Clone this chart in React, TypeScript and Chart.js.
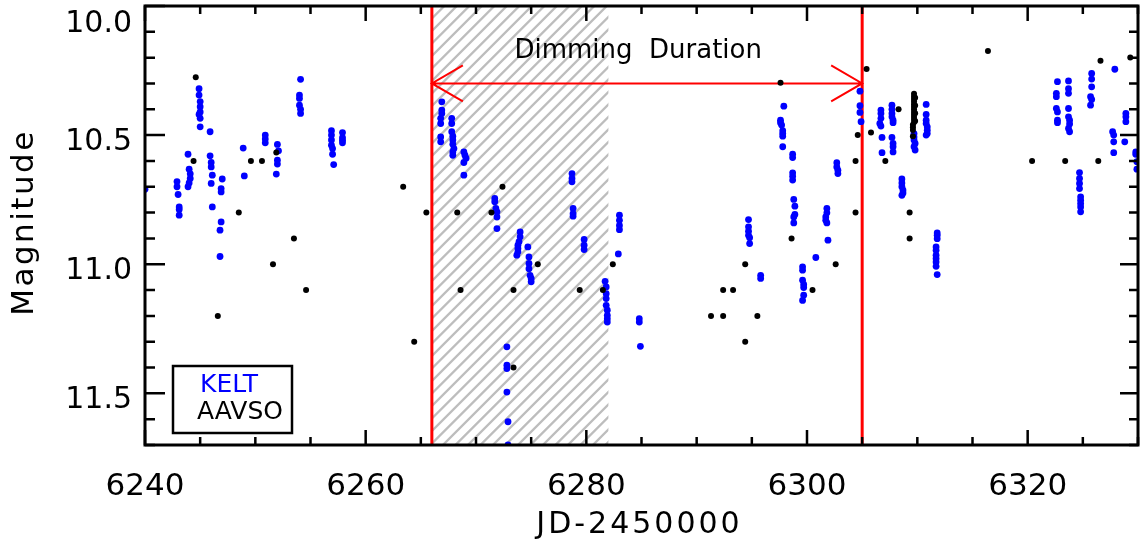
import { useEffect, useRef } from "react";
import { Chart, registerables } from "chart.js";
Chart.register(...registerables);

const FONT = '"DejaVu Sans", "Liberation Sans", sans-serif';

// Axis ranges and ticks
const xRange = [6240, 6330];
const yRange = [10.0, 11.7];
const xMajorTicks = [6240, 6260, 6280, 6300, 6320];
const xMinorStep = 5;
const yMajorTicks = [10.0, 10.5, 11.0, 11.5];
const yMinorStep = 0.1;

// Annotations
const dimmingStart = 6266;
const dimmingEnd = 6305;
const hatchEnd = 6282;
const arrowMag = 10.3;
const labelPos = [6284.7, 10.2];

// KELT photometry [JD-2450000, mag]
const keltPoints: [number, number][] = [
  [6240.0, 10.71],
  [6242.9, 10.68], [6242.9, 10.70], [6243.0, 10.73], [6243.1, 10.778], [6243.1, 10.788], [6243.1, 10.81],
  [6243.9, 10.574], [6244.0, 10.632], [6244.1, 10.65], [6244.1, 10.668], [6244.0, 10.685], [6243.9, 10.70],
  [6244.9, 10.32], [6244.9, 10.345], [6245.0, 10.37], [6245.0, 10.39], [6245.0, 10.41], [6244.9, 10.42], [6245.0, 10.435], [6245.0, 10.468],
  [6245.9, 10.487], [6245.9, 10.58], [6246.0, 10.606], [6246.0, 10.623], [6246.1, 10.655], [6246.0, 10.687], [6246.1, 10.778],
  [6247.0, 10.67], [6246.9, 10.707], [6246.9, 10.72], [6246.9, 10.836], [6246.8, 10.868], [6246.8, 10.97],
  [6248.9, 10.55], [6249.0, 10.658],
  [6250.9, 10.50], [6250.9, 10.515], [6250.9, 10.53],
  [6252.0, 10.536], [6252.1, 10.561], [6252.0, 10.597], [6252.0, 10.612], [6251.9, 10.651],
  [6254.1, 10.284], [6254.0, 10.345], [6254.0, 10.358], [6254.0, 10.384], [6254.1, 10.40], [6254.1, 10.416],
  [6256.9, 10.483], [6256.9, 10.50], [6256.9, 10.519], [6256.9, 10.539], [6257.0, 10.552], [6257.0, 10.574], [6257.1, 10.614],
  [6257.9, 10.49], [6257.9, 10.51], [6257.9, 10.52], [6257.9, 10.53],
  [6266.9, 10.371], [6266.9, 10.403], [6266.9, 10.416], [6266.8, 10.435], [6266.8, 10.455], [6266.8, 10.507], [6266.8, 10.526],
  [6267.8, 10.435], [6267.8, 10.455], [6267.8, 10.487], [6267.9, 10.504], [6267.9, 10.519], [6267.9, 10.535], [6268.0, 10.552], [6267.9, 10.565], [6267.9, 10.578],
  [6268.9, 10.565], [6269.0, 10.578], [6269.1, 10.59], [6268.9, 10.606], [6268.9, 10.655],
  [6271.7, 10.745], [6271.7, 10.758], [6271.8, 10.784], [6271.9, 10.797], [6271.9, 10.817], [6271.9, 10.862],
  [6272.8, 11.32], [6272.8, 11.391], [6272.8, 11.404], [6272.8, 11.495], [6272.9, 11.61], [6272.9, 11.70],
  [6274.0, 10.875], [6274.0, 10.894], [6273.9, 10.913], [6273.8, 10.926], [6273.8, 10.939], [6273.8, 10.952], [6273.7, 10.965],
  [6274.7, 10.933], [6274.8, 10.972], [6274.8, 10.997], [6274.8, 11.017], [6274.9, 11.043], [6275.0, 11.055], [6275.0, 11.068],
  [6278.7, 10.649], [6278.7, 10.668], [6278.7, 10.681], [6278.8, 10.784], [6278.8, 10.804], [6278.8, 10.814],
  [6279.8, 10.904], [6279.8, 10.926], [6279.8, 10.943],
  [6281.7, 11.066], [6281.8, 11.088], [6281.8, 11.114], [6281.8, 11.133], [6281.8, 11.159], [6281.9, 11.178], [6281.9, 11.198], [6281.9, 11.211], [6281.9, 11.224],
  [6283.0, 10.81], [6283.0, 10.83], [6283.0, 10.85], [6283.0, 10.866], [6282.9, 10.96],
  [6284.8, 11.211], [6284.8, 11.224], [6284.9, 11.318],
  [6294.7, 10.827], [6294.7, 10.855], [6294.7, 10.872], [6294.7, 10.888], [6294.8, 10.897], [6294.8, 10.92],
  [6295.8, 11.043], [6295.8, 11.055],
  [6297.9, 10.388], [6297.6, 10.442], [6297.6, 10.452], [6297.7, 10.461], [6297.8, 10.483], [6297.8, 10.494], [6297.8, 10.504], [6297.8, 10.545],
  [6298.7, 10.574], [6298.7, 10.587], [6298.7, 10.646], [6298.7, 10.659], [6298.7, 10.674], [6298.8, 10.749], [6298.9, 10.775], [6298.9, 10.807], [6298.8, 10.817], [6298.8, 10.84],
  [6299.6, 11.01], [6299.6, 11.023], [6299.6, 11.062], [6299.7, 11.078], [6299.7, 11.09], [6299.7, 11.12], [6299.6, 11.14],
  [6300.8, 10.974],
  [6301.8, 10.784], [6301.8, 10.801], [6301.7, 10.817], [6301.7, 10.83], [6301.8, 10.84], [6301.9, 10.907],
  [6302.7, 10.607], [6302.7, 10.623], [6302.8, 10.636], [6302.8, 10.649],
  [6304.8, 10.33], [6304.8, 10.386], [6304.8, 10.412], [6304.9, 10.448],
  [6306.7, 10.403], [6306.7, 10.416], [6306.7, 10.435], [6306.6, 10.455], [6306.7, 10.465], [6306.8, 10.509], [6306.8, 10.568],
  [6307.7, 10.384], [6307.7, 10.40], [6307.7, 10.416], [6307.7, 10.429], [6307.8, 10.442], [6307.8, 10.452], [6307.7, 10.509], [6307.8, 10.532], [6307.8, 10.545], [6307.8, 10.565],
  [6308.6, 10.67], [6308.6, 10.685], [6308.6, 10.70], [6308.7, 10.713], [6308.7, 10.724], [6308.6, 10.733],
  [6309.7, 10.494], [6309.7, 10.507], [6309.7, 10.519], [6309.8, 10.532], [6309.7, 10.545], [6309.8, 10.558],
  [6310.8, 10.381], [6310.8, 10.42], [6310.8, 10.442], [6310.8, 10.455], [6310.9, 10.468], [6310.9, 10.481], [6310.9, 10.494], [6310.8, 10.50],
  [6311.8, 10.879], [6311.8, 10.888], [6311.8, 10.901], [6311.7, 10.933], [6311.7, 10.946], [6311.7, 10.965], [6311.7, 10.978], [6311.7, 10.991], [6311.7, 11.008], [6311.8, 11.04],
  [6322.7, 10.293], [6322.6, 10.338], [6322.6, 10.351], [6322.6, 10.397], [6322.7, 10.41], [6322.7, 10.442], [6322.7, 10.452],
  [6323.7, 10.29], [6323.7, 10.32], [6323.7, 10.338], [6323.7, 10.397], [6323.7, 10.429], [6323.8, 10.442], [6323.8, 10.457], [6323.7, 10.474], [6323.8, 10.487],
  [6324.7, 10.645], [6324.7, 10.668], [6324.7, 10.687], [6324.7, 10.707], [6324.8, 10.739], [6324.8, 10.752], [6324.8, 10.765], [6324.8, 10.778], [6324.8, 10.797],
  [6325.8, 10.261], [6325.8, 10.283], [6325.8, 10.313], [6325.7, 10.351], [6325.8, 10.362], [6325.7, 10.384],
  [6327.9, 10.245],
  [6327.7, 10.487], [6327.8, 10.50], [6327.8, 10.526], [6327.8, 10.568],
  [6328.9, 10.416], [6328.9, 10.429], [6328.9, 10.448], [6328.8, 10.526],
  [6329.8, 10.565], [6329.8, 10.574], [6329.9, 10.603], [6329.9, 10.632],
];

// AAVSO photometry [JD-2450000, mag]
const aavsoPoints: [number, number][] = [
  [6244.6, 10.276], [6244.4, 10.60], [6246.6, 11.20], [6248.5, 10.80], [6249.6, 10.60], [6250.6, 10.60],
  [6251.9, 10.567], [6251.6, 11.00], [6253.5, 10.90], [6254.6, 11.10], [6263.4, 10.70], [6265.5, 10.80], [6264.4, 11.30],
  [6268.3, 10.80], [6268.6, 11.10], [6271.4, 10.80], [6272.4, 10.70], [6273.4, 11.10], [6273.4, 11.40],
  [6275.6, 11.00], [6279.4, 11.10], [6281.5, 11.10], [6282.4, 11.00],
  [6291.3, 11.20], [6292.4, 11.20], [6292.4, 11.10], [6293.3, 11.10], [6294.4, 11.00], [6294.4, 11.30], [6295.5, 11.20],
  [6297.6, 10.297], [6298.6, 10.90], [6300.5, 11.10], [6302.6, 11.00], [6304.4, 10.80], [6304.4, 10.60], [6304.6, 10.50],
  [6305.4, 10.244], [6305.8, 10.49], [6307.1, 10.60], [6308.3, 10.40],
  [6309.3, 10.80], [6309.3, 10.90], [6309.6, 10.504],
  [6309.7, 10.34], [6309.7, 10.35], [6309.7, 10.36], [6309.7, 10.37], [6309.7, 10.38], [6309.7, 10.39], [6309.7, 10.40],
  [6309.7, 10.41], [6309.7, 10.42], [6309.7, 10.43], [6309.7, 10.44], [6309.7, 10.45], [6309.6, 10.46], [6309.6, 10.47],
  [6309.6, 10.48], [6309.8, 10.355], [6309.8, 10.385], [6309.8, 10.415], [6309.8, 10.445],
  [6316.4, 10.174], [6320.4, 10.60], [6323.4, 10.60], [6326.4, 10.60], [6326.6, 10.212], [6329.3, 10.199],
];

const decorPlugin = {
  id: "decor",
  beforeDatasetsDraw(chart: any) {
    const { ctx, chartArea: a } = chart;
    const x = chart.scales.x;
    const y = chart.scales.y;
    const hx0 = x.getPixelForValue(dimmingStart);
    const hx1 = x.getPixelForValue(hatchEnd);
    // hatch
    ctx.save();
    ctx.beginPath();
    ctx.rect(hx0, a.top, hx1 - hx0, a.bottom - a.top);
    ctx.clip();
    ctx.strokeStyle = "#bdbdbd";
    ctx.lineWidth = 2.4;
    const H = a.bottom - a.top;
    ctx.beginPath();
    for (let k = hx0 - H; k < hx1 + 2; k += 12.5) {
      ctx.moveTo(k, a.bottom);
      ctx.lineTo(k + H, a.top);
    }
    ctx.stroke();
    ctx.restore();

    ctx.save();
    // red vertical lines
    ctx.strokeStyle = "#ff0000";
    ctx.lineWidth = 3;
    [dimmingStart, dimmingEnd].forEach((v) => {
      const px = x.getPixelForValue(v);
      ctx.beginPath();
      ctx.moveTo(px, a.top);
      ctx.lineTo(px, a.bottom);
      ctx.stroke();
    });
    // arrow
    const ax0 = x.getPixelForValue(dimmingStart);
    const ax1 = x.getPixelForValue(dimmingEnd);
    const ay = y.getPixelForValue(arrowMag);
    ctx.lineWidth = 2;
    ctx.beginPath();
    ctx.moveTo(ax0, ay);
    ctx.lineTo(ax1, ay);
    ctx.moveTo(ax0 + 31, ay - 18);
    ctx.lineTo(ax0, ay);
    ctx.lineTo(ax0 + 31, ay + 18);
    ctx.moveTo(ax1 - 31, ay - 18);
    ctx.lineTo(ax1, ay);
    ctx.lineTo(ax1 - 31, ay + 18);
    ctx.stroke();
    // label
    ctx.fillStyle = "#000";
    ctx.font = `26px ${FONT}`;
    ctx.textAlign = "center";
    ctx.textBaseline = "alphabetic";
    ctx.fillText("Dimming  Duration", x.getPixelForValue(labelPos[0]), y.getPixelForValue(labelPos[1]));
    ctx.restore();
  },
  afterDraw(chart: any) {
    const { ctx, chartArea: a } = chart;
    const x = chart.scales.x;
    const y = chart.scales.y;
    ctx.save();
    ctx.strokeStyle = "#000";
    ctx.fillStyle = "#000";
    // ticks
    ctx.lineWidth = 2.5;
    ctx.beginPath();
    for (let v = xRange[0]; v <= xRange[1] + 1e-9; v += xMinorStep) {
      const px = x.getPixelForValue(v);
      const major = xMajorTicks.some((t) => Math.abs(t - v) < 1e-6);
      const len = major ? 15 : 8;
      ctx.moveTo(px, a.bottom);
      ctx.lineTo(px, a.bottom - len);
      ctx.moveTo(px, a.top);
      ctx.lineTo(px, a.top + len);
    }
    for (let i = 0; i <= Math.round((yRange[1] - yRange[0]) / yMinorStep); i++) {
      const v = yRange[0] + i * yMinorStep;
      const py = y.getPixelForValue(v);
      const major = yMajorTicks.some((t) => Math.abs(t - v) < 1e-6);
      ctx.moveTo(a.left, py);
      ctx.lineTo(a.left + (major ? 20 : 10), py);
      ctx.moveTo(a.right, py);
      ctx.lineTo(a.right - (major ? 18 : 9), py);
    }
    ctx.stroke();
    // frame
    ctx.lineWidth = 3;
    ctx.strokeRect(a.left, a.top, a.right - a.left, a.bottom - a.top);

    // tick labels
    ctx.font = `31px ${FONT}`;
    ctx.textAlign = "center";
    ctx.textBaseline = "alphabetic";
    xMajorTicks.forEach((t) => ctx.fillText(String(t), x.getPixelForValue(t), a.bottom + 50));
    ctx.font = `30px ${FONT}`;
    ctx.textAlign = "right";
    yMajorTicks.forEach((t) => {
      const py = y.getPixelForValue(t);
      ctx.fillText(t.toFixed(1), a.left - 13, Math.max(py + 15, a.top + 26));
    });

    // axis titles
    ctx.font = `30px ${FONT}`;
    ctx.textAlign = "center";
    (ctx as any).letterSpacing = "3px";
    ctx.fillText("JD-2450000", (a.left + a.right) / 2 - 2, a.bottom + 88);
    ctx.save();
    ctx.font = `31px ${FONT}`;
    (ctx as any).letterSpacing = "2.5px";
    ctx.translate(33, (a.top + a.bottom) / 2 - 3);
    ctx.rotate(-Math.PI / 2);
    ctx.fillText("Magnitude", 0, 0);
    ctx.restore();
    (ctx as any).letterSpacing = "0px";

    // legend
    ctx.lineWidth = 2.5;
    ctx.strokeRect(173, 366, 119, 67);
    ctx.font = `25px ${FONT}`;
    ctx.textAlign = "left";
    ctx.fillStyle = "#0000ff";
    ctx.fillText("KELT", 200, 392);
    ctx.fillStyle = "#000";
    ctx.fillText("AAVSO", 197, 419);
    ctx.restore();
  },
};

export default function App() {
  const ref = useRef<HTMLCanvasElement | null>(null);
  useEffect(() => {
    document.body.style.margin = "0";
    if (!ref.current) return;
    const chart = new Chart(ref.current, {
      type: "scatter",
      data: {
        datasets: [
          {
            label: "AAVSO",
            data: aavsoPoints.map(([jd, m]) => ({ x: jd, y: m })),
            backgroundColor: "#000000",
            borderWidth: 0,
            pointRadius: 3,
            order: 0,
            clip: 0,
          },
          {
            label: "KELT",
            data: keltPoints.map(([jd, m]) => ({ x: jd, y: m })),
            backgroundColor: "#0000ff",
            borderWidth: 0,
            pointRadius: 3.4,
            order: 1,
            clip: 0,
          },
        ],
      },
      options: {
        animation: false,
        responsive: false,
        devicePixelRatio: 1,
        layout: { padding: { top: 6, right: 6, left: 0, bottom: 0 } },
        plugins: { legend: { display: false }, tooltip: { enabled: false }, title: { display: false } },
        scales: {
          x: {
            type: "linear",
            min: xRange[0],
            max: xRange[1],
            grid: { display: false },
            border: { display: false },
            ticks: { display: false, stepSize: 20 },
            afterFit: (s: any) => { s.height = 99; },
          },
          y: {
            type: "linear",
            min: yRange[0],
            max: yRange[1],
            reverse: true,
            grid: { display: false },
            border: { display: false },
            ticks: { display: false, stepSize: 0.1 },
            afterFit: (s: any) => { s.width = 145; },
          },
        },
      },
      plugins: [decorPlugin],
    } as any);
    return () => chart.destroy();
  }, []);
  return (
    <div style={{ width: 1144, height: 544, background: "#fff" }}>
      <canvas ref={ref} width={1144} height={544} style={{ display: "block", width: 1144, height: 544 }} />
    </div>
  );
}
